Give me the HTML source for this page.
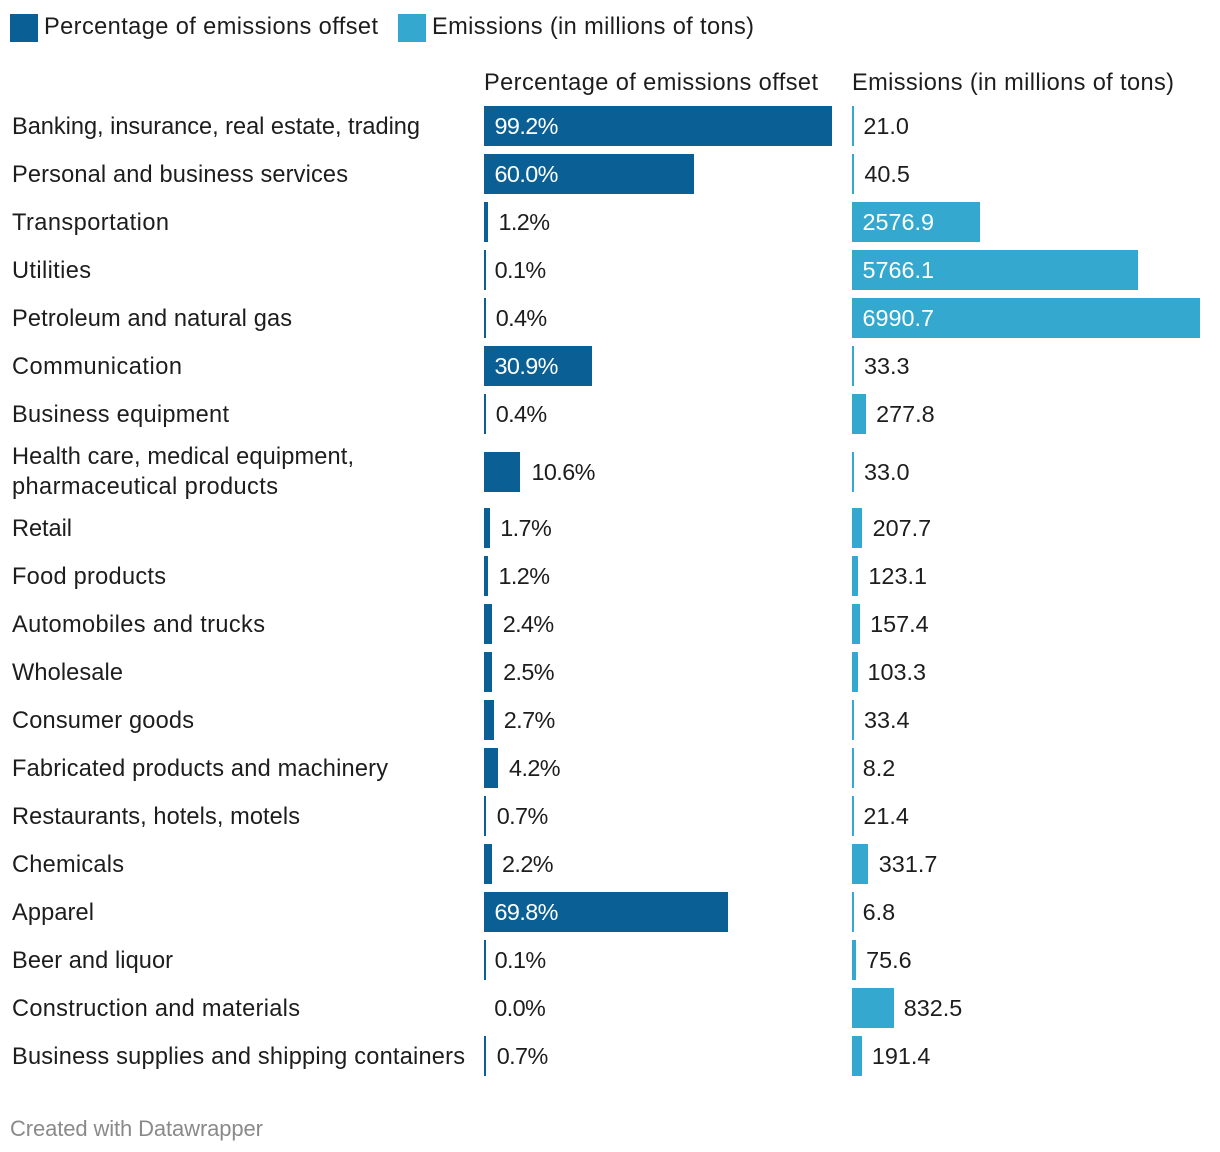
<!DOCTYPE html>
<html lang="en">
<head>
<meta charset="utf-8">
<title>Emissions offset by industry</title>
<style>
html,body{margin:0;padding:0;background:#fff;}
body{width:1220px;height:1152px;overflow:hidden;}
svg{display:block;}
text{font-family:"Liberation Sans",Arial,sans-serif;font-size:23.6px;fill:#1d1d1d;}
</style>
</head>
<body>
<svg id="chart" xmlns="http://www.w3.org/2000/svg" width="1220" height="1152" viewBox="0 0 1220 1152">
  <g>
    <rect x="10" y="14" width="28" height="28" fill="#0a5f94"></rect>
    <text x="44" y="34" textLength="334">Percentage of emissions offset</text>
    <rect x="398" y="14" width="28" height="28" fill="#34a8ce"></rect>
    <text x="432" y="34" textLength="322">Emissions (in millions of tons)</text>
  </g>
  <text x="484" y="90" textLength="334">Percentage of emissions offset</text>
  <text x="852" y="90" textLength="322">Emissions (in millions of tons)</text>
  <g id="rows"></g>
  <text x="10" y="1136" textLength="253" style="fill:#8a8a8a;font-size:22px">Created with Datawrapper</text>
</svg>
<script>
const categories = [
  "Banking, insurance, real estate, trading",
  "Personal and business services",
  "Transportation",
  "Utilities",
  "Petroleum and natural gas",
  "Communication",
  "Business equipment",
  "Health care, medical equipment,|pharmaceutical products",
  "Retail",
  "Food products",
  "Automobiles and trucks",
  "Wholesale",
  "Consumer goods",
  "Fabricated products and machinery",
  "Restaurants, hotels, motels",
  "Chemicals",
  "Apparel",
  "Beer and liquor",
  "Construction and materials",
  "Business supplies and shipping containers"
];
const offsetPercent = [99.2, 60.0, 1.2, 0.1, 0.4, 30.9, 0.4, 10.6, 1.7, 1.2, 2.4, 2.5, 2.7, 4.2, 0.7, 2.2, 69.8, 0.1, 0.0, 0.7];
const emissionsTons = [21.0, 40.5, 2576.9, 5766.1, 6990.7, 33.3, 277.8, 33.0, 207.7, 123.1, 157.4, 103.3, 33.4, 8.2, 21.4, 331.7, 6.8, 75.6, 832.5, 191.4];

/* Typography only: rendered width of each category line, so the substitute font occupies the same run length. */
const labelFit = {
  "Banking, insurance, real estate, trading": 408,
  "Personal and business services": 336,
  "Transportation": 157,
  "Utilities": 79,
  "Petroleum and natural gas": 280,
  "Communication": 170,
  "Business equipment": 217,
  "Health care, medical equipment,": 342,
  "pharmaceutical products": 266,
  "Retail": 60,
  "Food products": 154,
  "Automobiles and trucks": 253,
  "Wholesale": 111,
  "Consumer goods": 182,
  "Fabricated products and machinery": 376,
  "Restaurants, hotels, motels": 288,
  "Chemicals": 112,
  "Apparel": 82,
  "Beer and liquor": 161,
  "Construction and materials": 288,
  "Business supplies and shipping containers": 453
};

const SVG_NS = "http://www.w3.org/2000/svg";
const rowsGroup = document.getElementById("rows");
const PANEL_WIDTH = 348;
const maxOffset = Math.max.apply(null, offsetPercent);
const maxEmissions = Math.max.apply(null, emissionsTons);
const xOffset = function (v) { return v / maxOffset * PANEL_WIDTH; };
const xEmissions = function (v) { return v / maxEmissions * PANEL_WIDTH; };
/* Bars snap to the 2x device grid; each panel's left edge sits at a small fractional offset. */
const snapWidth = function (w, edge) {
  if (w <= 0) return 0;
  return Math.max(2, Math.round(w / 2 + edge) * 2);
};
const slug = function (s) {
  return s.toLowerCase().replace(/[^a-z0-9]+/g, "-").replace(/^-|-$/g, "");
};

function addText(parent, x, y, content, fill) {
  const t = document.createElementNS(SVG_NS, "text");
  t.setAttribute("x", x);
  t.setAttribute("y", y);
  if (fill) t.style.fill = fill;
  t.textContent = content;
  parent.appendChild(t);
  return t;
}

function addBar(parent, panelX, edge, barTop, rawWidth, color, label, name, tight) {
  const w = snapWidth(rawWidth, edge);
  const r = document.createElementNS(SVG_NS, "rect");
  r.setAttribute("x", panelX);
  r.setAttribute("y", barTop);
  r.setAttribute("width", w);
  r.setAttribute("height", 40);
  r.setAttribute("fill", color);
  
  
  parent.appendChild(r);
  const inside = rawWidth > 80;
  const lx = inside ? panelX + 10.5 : panelX + rawWidth + 10.3;
  const t = addText(parent, lx, barTop + 28, label, inside ? "#ffffff" : null);
  t.style.fontSize = "23.4px";
  if (tight) t.style.letterSpacing = "-0.6px";
  
  
}

let rowTop = 106;
categories.forEach(function (cat, i) {
  const lines = cat.split("|");
  const rowH = lines.length > 1 ? 58 : 40;
  const barTop = Math.round((rowTop + (rowH - 40) / 2) / 2) * 2;
  const id = slug(lines.join(" "));

  const g = document.createElementNS(SVG_NS, "g");
  
  
  rowsGroup.appendChild(g);

  lines.forEach(function (line, j) {
    const baseline = lines.length > 1 ? barTop + 12 + j * 30 : barTop + 28;
    const t = addText(g, 12, baseline, line, null);
    if (labelFit[line]) t.setAttribute("textLength", labelFit[line]);
    
    
  });

  const p = offsetPercent[i];
  const e = emissionsTons[i];
  addBar(g, 484, -0.2, barTop, xOffset(p), "#0a5f94", p.toFixed(1) + "%", "offset-" + id, true);
  addBar(g, 852, -0.05, barTop, xEmissions(e), "#34a8ce", e.toFixed(1), "emissions-" + id, false);

  rowTop += rowH + 8;
});
</script>
</body>
</html>
